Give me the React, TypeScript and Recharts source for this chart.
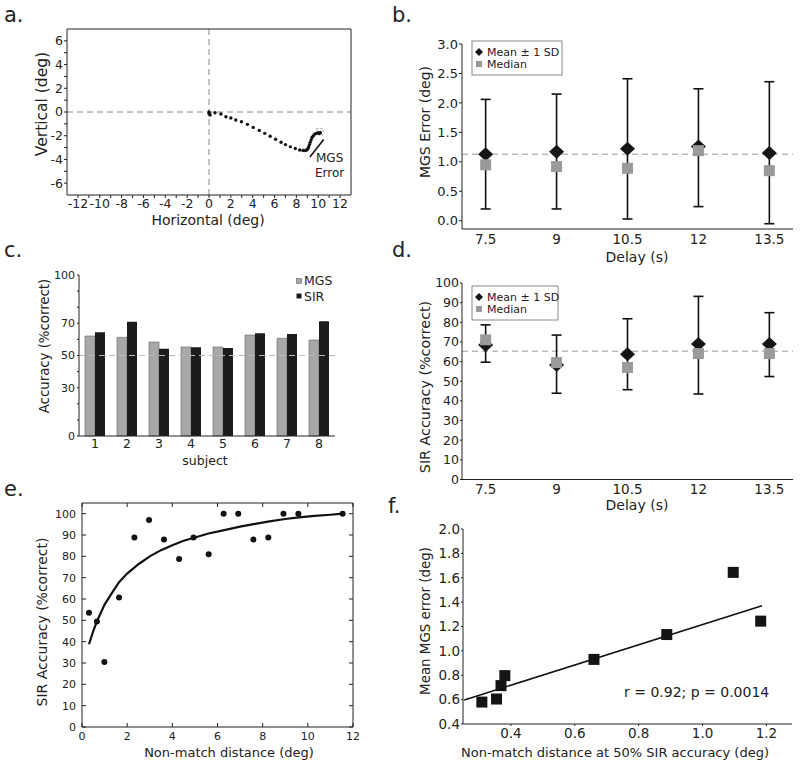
import React from 'react';
import {
  ScatterChart, Scatter, XAxis, YAxis, ReferenceLine, ReferenceArea, ErrorBar, BarChart, Bar,
} from 'recharts';

const FONT = "'DejaVu Sans', Verdana, sans-serif";
const INK = '#222';
const GREY = '#9a9a9a';

// ---------- Panel a: saccade trajectory ----------
const trajX = [0, 0.02, 0.05, 0.1, 0.55, 1.09, 1.55, 2.0, 2.45, 2.97, 3.52, 4.05, 4.6, 5.1, 5.6, 6.1, 6.6, 7.0, 7.45, 7.9, 8.3, 8.6, 8.8, 8.95, 9.05, 9.12, 9.2, 9.27, 9.35, 9.43, 9.55, 9.7, 9.85, 10.0, 10.1, 10.2];
const trajY = [0, -0.1, -0.2, -0.25, -0.06, -0.17, -0.4, -0.5, -0.68, -0.82, -1.04, -1.3, -1.55, -1.8, -2.05, -2.3, -2.55, -2.75, -2.94, -3.08, -3.2, -3.25, -3.25, -3.2, -3.1, -2.95, -2.75, -2.55, -2.35, -2.15, -2.0, -1.85, -1.8, -1.75, -1.8, -1.75];
const aDomX = [-13, 13];
const aDomY = [-7, 7];
const aTicksX = [-12, -11, -10, -9, -8, -7, -6, -5, -4, -3, -2, -1, 0, 1, 2, 3, 4, 5, 6, 7, 8, 9, 10, 11, 12];
const aTicksY = [-6, -5, -4, -3, -2, -1, 0, 1, 2, 3, 4, 5, 6];
const aErrLineX = [9.24, 10.5];
const aErrLineY = [-3.79, -2.32];
const aBoxX = [9.85, 10.45];
const aBoxY = [-1.95, -1.4];

// ---------- Panel b: MGS error by delay ----------
const delays = [7.5, 9, 10.5, 12, 13.5];
const mgsMean = [1.13, 1.17, 1.22, 1.26, 1.15];
const mgsLow = [0.2, 0.2, 0.03, 0.24, -0.05];
const mgsHigh = [2.06, 2.15, 2.41, 2.24, 2.36];
const mgsMedian = [0.95, 0.92, 0.89, 1.19, 0.85];
const mgsRef = 1.13;
const bTicksY = [0, 0.5, 1.0, 1.5, 2.0, 2.5, 3.0];

// ---------- Panel c: accuracy per subject ----------
const subjects = ['1', '2', '3', '4', '5', '6', '7', '8'];
const mgsAcc = [62.1, 61.3, 58.4, 55.3, 55.3, 62.7, 60.7, 59.6];
const sirAcc = [64.4, 71, 54.2, 55.1, 54.7, 63.8, 63.4, 71.2];
const cTicksY = [0, 10, 20, 30, 40, 50, 60, 70, 80, 90, 100];
const cLabeled = [0, 30, 50, 70, 100];

// ---------- Panel d: SIR accuracy by delay ----------
const sirMean = [68.5, 58.3, 63.8, 68.9, 68.9];
const sirLow = [59.7, 43.9, 45.7, 43.5, 52.4];
const sirHigh = [78.7, 73.5, 81.8, 93.2, 84.9];
const sirMedian = [71.1, 59.5, 57, 64.1, 64.1];
const sirRef = 65.3;
const dTicksY = [0, 10, 20, 30, 40, 50, 60, 70, 80, 90, 100];

// ---------- Panel e: accuracy vs non-match distance ----------
const nmDist = [0.31, 0.66, 0.99, 1.64, 2.32, 2.97, 3.63, 4.3, 4.94, 5.61, 6.27, 6.92, 7.59, 8.25, 8.92, 9.58, 11.54];
const nmAcc = [53.6, 49.5, 30.5, 60.7, 88.8, 97, 87.9, 78.8, 88.8, 81, 100, 100, 87.9, 88.8, 100, 100, 100];
const fitDist = [0.31, 0.5, 0.66, 1.0, 1.3, 1.64, 2.0, 2.5, 3.0, 3.5, 4.0, 4.5, 5.0, 5.6, 6.3, 7.0, 7.6, 8.3, 9.0, 9.6, 10.3, 11.0, 11.54];
const fitAcc = [38.8, 45, 49.5, 57.4, 62.4, 67.9, 71.9, 76.3, 80, 82.9, 85.2, 87.3, 88.8, 90.7, 92.3, 93.9, 95.1, 96.4, 97.5, 98.3, 99, 99.5, 100];
const eDomX = [0, 12];
const eDomY = [0, 105];
const eTicksX = [0, 2, 4, 6, 8, 10, 12];
const eTicksY = [0, 10, 20, 30, 40, 50, 60, 70, 80, 90, 100];

// ---------- Panel f: MGS error vs threshold ----------
const thrDist = [0.309, 0.355, 0.369, 0.381, 0.66, 0.888, 1.096, 1.182];
const thrErr = [0.58, 0.605, 0.715, 0.797, 0.93, 1.134, 1.644, 1.244];
const regX = [0.254, 1.186];
const regY = [0.597, 1.37];
const fTicksX = [0.4, 0.6, 0.8, 1.0, 1.2];
const fTicksY = [0.4, 0.6, 0.8, 1.0, 1.2, 1.4, 1.6, 1.8, 2.0];

// plot-box geometry (page pixels) used for frames of panels a and e
const A_BOX = { l: 67, t: 29, r: 351, b: 195 };
const E_BOX = { l: 82, t: 503, r: 353, b: 727 };

const noShape = () => <g />;

function Diamond(props: any) {
  const { cx, cy } = props;
  if (cx == null || cy == null) return <g />;
  return <polygon points={`${cx},${cy - 7} ${cx + 7.5},${cy} ${cx},${cy + 7} ${cx - 7.5},${cy}`} fill="#151515" />;
}
function GreySquare(props: any) {
  const { cx, cy } = props;
  if (cx == null || cy == null) return <g />;
  return <rect x={cx - 5.5} y={cy - 5.5} width={11} height={11} fill={GREY} />;
}
function BlackSquare(props: any) {
  const { cx, cy } = props;
  if (cx == null || cy == null) return <g />;
  return <rect x={cx - 5.5} y={cy - 5.5} width={11} height={11} fill="#141414" />;
}
function SmallDot(props: any) {
  const { cx, cy } = props;
  if (cx == null || cy == null) return <g />;
  return <circle cx={cx} cy={cy} r={1.7} fill="#111" />;
}
function Dot(props: any) {
  const { cx, cy } = props;
  if (cx == null || cy == null) return <g />;
  return <circle cx={cx} cy={cy} r={3} fill="#111" />;
}

const tickStyle = (size: number) => ({ fontSize: size, fill: INK, fontFamily: FONT });

function PanelA() {
  const pts = trajX.map((x, i) => ({ x, y: trajY[i] }));
  const seg = aErrLineX.map((x, i) => ({ x, y: aErrLineY[i] }));
  return (
    <ScatterChart width={400} height={250} margin={{ top: A_BOX.t, right: 400 - A_BOX.r, bottom: 25, left: 27 }}>
      <XAxis type="number" dataKey="x" domain={aDomX} ticks={aTicksX} interval={0}
        tickFormatter={(v: number) => (v % 2 === 0 ? String(v) : '')}
        tickSize={3} tickMargin={1} height={30} stroke={INK} tick={tickStyle(12.5)} />
      <YAxis type="number" dataKey="y" domain={aDomY} ticks={aTicksY} interval={0}
        tickFormatter={(v: number) => (v % 2 === 0 ? String(v) : '')}
        tickSize={3} tickMargin={1} width={40} stroke={INK} tick={tickStyle(12.5)} />
      <ReferenceLine x={0} stroke="#888" strokeDasharray="6 4" />
      <ReferenceLine y={0} stroke="#888" strokeDasharray="6 4" />
      <ReferenceArea x1={aBoxX[0]} x2={aBoxX[1]} y1={aBoxY[0]} y2={aBoxY[1]} fill="none" fillOpacity={0} stroke="#aaa" strokeDasharray="2 2" />
      <Scatter data={pts} shape={SmallDot} isAnimationActive={false} />
      <Scatter data={seg} shape={noShape} line={{ stroke: '#111', strokeWidth: 1.6 }} isAnimationActive={false} />
    </ScatterChart>
  );
}

function PanelB() {
  const meanData = delays.map((x, i) => ({ x, y: mgsMean[i], err: [mgsMean[i] - mgsLow[i], mgsHigh[i] - mgsMean[i]] }));
  const medData = delays.map((x, i) => ({ x, y: mgsMedian[i] }));
  return (
    <ScatterChart width={400} height={260} margin={{ top: 44, right: 7, bottom: 1, left: 20 }}>
      <XAxis type="number" dataKey="x" domain={[7, 14]} ticks={delays} interval={0}
        tickSize={0} tickMargin={5} height={30} stroke={INK} tick={tickStyle(13.5)} allowDataOverflow />
      <YAxis type="number" dataKey="y" domain={[-0.14, 3]} ticks={bTicksY} interval={0}
        tickFormatter={(v: number) => v.toFixed(1)}
        tickSize={3} tickMargin={1} width={42} stroke={INK} tick={tickStyle(13)} allowDataOverflow />
      <ReferenceLine y={mgsRef} stroke="#999" strokeDasharray="6 4" />
      <Scatter data={meanData} shape={Diamond} isAnimationActive={false}>
        <ErrorBar dataKey="err" direction="y" width={5} stroke="#111" strokeWidth={1.6} />
      </Scatter>
      <Scatter data={medData} shape={GreySquare} isAnimationActive={false} />
    </ScatterChart>
  );
}

function PanelC() {
  const data = subjects.map((s, i) => ({ s, mgs: mgsAcc[i], sir: sirAcc[i] }));
  return (
    <BarChart width={400} height={230} data={data} margin={{ top: 25, right: 65, bottom: 14, left: 35 }} barGap={0} barCategoryGap={6}>
      <XAxis dataKey="s" tickLine={false} tickSize={0} tickMargin={3} height={30} stroke={INK} tick={tickStyle(12.5)} interval={0} />
      <YAxis type="number" domain={[0, 100]} ticks={cTicksY} interval={0}
        tickFormatter={(v: number) => (cLabeled.includes(v) ? String(v) : '')}
        tickSize={2} tickMargin={2} width={44} stroke={INK} tick={tickStyle(11)} />
      <Bar dataKey="mgs" fill="#a8a8a8" stroke="#666" strokeWidth={0.6} barSize={10} isAnimationActive={false} />
      <Bar dataKey="sir" fill="#1c1c1c" barSize={10} isAnimationActive={false} />
      <ReferenceLine y={50} stroke="#bbb" strokeDasharray="6 4" />
    </BarChart>
  );
}

function PanelD() {
  const meanData = delays.map((x, i) => ({ x, y: sirMean[i], err: [sirMean[i] - sirLow[i], sirHigh[i] - sirMean[i]] }));
  const medData = delays.map((x, i) => ({ x, y: sirMedian[i] }));
  return (
    <ScatterChart width={400} height={260} margin={{ top: 33, right: 7, bottom: 0.5, left: 20 }}>
      <XAxis type="number" dataKey="x" domain={[7, 14]} ticks={delays} interval={0}
        tickSize={0} tickMargin={5} height={30} stroke={INK} tick={tickStyle(13.5)} allowDataOverflow />
      <YAxis type="number" dataKey="y" domain={[0, 100]} ticks={dTicksY} interval={0}
        tickSize={2} tickMargin={1} width={42} stroke={INK} tick={tickStyle(12.5)} allowDataOverflow />
      <ReferenceLine y={sirRef} stroke="#999" strokeDasharray="6 4" />
      <Scatter data={meanData} shape={Diamond} isAnimationActive={false}>
        <ErrorBar dataKey="err" direction="y" width={5} stroke="#111" strokeWidth={1.6} />
      </Scatter>
      <Scatter data={medData} shape={GreySquare} isAnimationActive={false} />
    </ScatterChart>
  );
}

function PanelE() {
  const pts = nmDist.map((x, i) => ({ x, y: nmAcc[i] }));
  const fit = fitDist.map((x, i) => ({ x, y: fitAcc[i] }));
  return (
    <ScatterChart width={400} height={289} margin={{ top: E_BOX.t - 480, right: 400 - E_BOX.r, bottom: 12, left: 37 }}>
      <XAxis type="number" dataKey="x" domain={eDomX} ticks={eTicksX} interval={0}
        tickLine={false} tickSize={0} tickMargin={5} height={30} stroke={INK} tick={tickStyle(11)} />
      <YAxis type="number" dataKey="y" domain={eDomY} ticks={eTicksY} interval={0}
        tickLine={false} tickSize={0} tickMargin={6} width={45} stroke={INK} tick={tickStyle(11)} />
      <Scatter data={fit} shape={noShape} line={{ stroke: '#111', strokeWidth: 2.2 }} isAnimationActive={false} />
      <Scatter data={pts} shape={Dot} isAnimationActive={false} />
    </ScatterChart>
  );
}

function PanelF() {
  const pts = thrDist.map((x, i) => ({ x, y: thrErr[i] }));
  const reg = regX.map((x, i) => ({ x, y: regY[i] }));
  return (
    <ScatterChart width={400} height={289} margin={{ top: 49, right: 8, bottom: 15, left: 20 }}>
      <XAxis type="number" dataKey="x" domain={[0.25, 1.28]} ticks={fTicksX} interval={0}
        tickFormatter={(v: number) => v.toFixed(1)}
        tickSize={2} tickMargin={2} height={30} stroke={INK} tick={tickStyle(13.5)} allowDataOverflow />
      <YAxis type="number" dataKey="y" domain={[0.4, 2.0]} ticks={fTicksY} interval={0}
        tickFormatter={(v: number) => v.toFixed(1)}
        tickSize={2} tickMargin={1} width={43} stroke={INK} tick={tickStyle(13.5)} allowDataOverflow />
      <Scatter data={reg} shape={noShape} line={{ stroke: '#111', strokeWidth: 1.6 }} isAnimationActive={false} />
      <Scatter data={pts} shape={BlackSquare} isAnimationActive={false} />
    </ScatterChart>
  );
}

function RotText({ x, y, size, children }: any) {
  return (
    <text transform={`translate(${x},${y}) rotate(-90)`} textAnchor="middle" dominantBaseline="central" fontSize={size} fill={INK} fontFamily={FONT}>{children}</text>
  );
}
function T({ x, y, size, anchor = 'middle', children }: any) {
  return <text x={x} y={y} fontSize={size} textAnchor={anchor} fill={INK} fontFamily={FONT}>{children}</text>;
}
function LegendBox({ x, y, w, h }: any) {
  return (
    <g>
      <rect x={x} y={y} width={w} height={h} fill="#fff" stroke="#888" strokeWidth={1} />
      <polygon points={`${x + 7},${y + 7} ${x + 11},${y + 11} ${x + 7},${y + 15} ${x + 3},${y + 11}`} fill="#151515" />
      <text x={x + 15} y={y + 15} fontSize={11} fill={INK} fontFamily={FONT}>Mean ± 1 SD</text>
      <rect x={x + 4} y={y + 20} width={6} height={6} fill={GREY} />
      <text x={x + 15} y={y + 27} fontSize={11} fill={INK} fontFamily={FONT}>Median</text>
    </g>
  );
}

// top/right frame edges of a boxed panel, with optional inward ticks
function Frame({ box, dx, dy, ticksX, ticksY }: any) {
  const sx = (v: number) => box.l + ((v - dx[0]) / (dx[1] - dx[0])) * (box.r - box.l);
  const sy = (v: number) => box.b - ((v - dy[0]) / (dy[1] - dy[0])) * (box.b - box.t);
  return (
    <g stroke={INK} strokeWidth={1} fill="none">
      <polyline points={`${box.l},${box.t} ${box.r},${box.t} ${box.r},${box.b}`} />
      {(ticksX || []).map((v: number) => (
        <g key={`x${v}`}>
          <line x1={sx(v)} x2={sx(v)} y1={box.b} y2={box.b - 4} />
          <line x1={sx(v)} x2={sx(v)} y1={box.t} y2={box.t + 4} />
        </g>
      ))}
      {(ticksY || []).map((v: number) => (
        <g key={`y${v}`}>
          <line x1={box.l} x2={box.l + 4} y1={sy(v)} y2={sy(v)} />
          <line x1={box.r} x2={box.r - 4} y1={sy(v)} y2={sy(v)} />
        </g>
      ))}
    </g>
  );
}

export default function App() {
  return (
    <div style={{ position: 'absolute', left: 0, top: 0, width: 800, height: 769, background: '#fff', fontFamily: FONT }}>
      <div style={{ position: 'absolute', left: 0, top: 0 }}><PanelA /></div>
      <div style={{ position: 'absolute', left: 400, top: 0 }}><PanelB /></div>
      <div style={{ position: 'absolute', left: 0, top: 250 }}><PanelC /></div>
      <div style={{ position: 'absolute', left: 400, top: 250 }}><PanelD /></div>
      <div style={{ position: 'absolute', left: 0, top: 480 }}><PanelE /></div>
      <div style={{ position: 'absolute', left: 400, top: 480 }}><PanelF /></div>
      <svg width={800} height={769} style={{ position: 'absolute', left: 0, top: 0, pointerEvents: 'none' }}>
        <Frame box={A_BOX} dx={aDomX} dy={aDomY} />
        <Frame box={E_BOX} dx={eDomX} dy={eDomY} ticksX={eTicksX} ticksY={eTicksY} />

        <T x={4} y={22} size={21} anchor="start">a.</T>
        <T x={392} y={22} size={21} anchor="start">b.</T>
        <T x={4} y={257} size={21} anchor="start">c.</T>
        <T x={392} y={257} size={21} anchor="start">d.</T>
        <T x={4} y={496} size={21} anchor="start">e.</T>
        <T x={388} y={513} size={21} anchor="start">f.</T>

        <T x={208} y={225} size={14}>Horizontal (deg)</T>
        <RotText x={42} y={104} size={15.5}>Vertical (deg)</RotText>
        <T x={316} y={162} size={12} anchor="start">MGS</T>
        <T x={315} y={177} size={12} anchor="start">Error</T>

        <RotText x={425} y={122} size={14}>MGS Error (deg)</RotText>
        <LegendBox x={472} y={41} w={90} h={34} />
        <T x={637} y={262} size={14}>Delay (s)</T>

        <RotText x={44} y={346} size={13.3}>Accuracy (%correct)</RotText>
        <rect x={296.5} y={278.5} width={5} height={5} fill="#a8a8a8" stroke="#666" strokeWidth={0.6} />
        <T x={304} y={285} size={12.5} anchor="start">MGS</T>
        <rect x={296.5} y={293.5} width={5} height={5} fill="#1c1c1c" />
        <T x={304} y={300.5} size={12.5} anchor="start">SIR</T>
        <T x={205} y={465} size={12.5}>subject</T>

        <RotText x={425} y={387} size={14.3}>SIR Accuracy (%correct)</RotText>
        <LegendBox x={472} y={286} w={86} h={34} />
        <T x={637} y={510} size={14}>Delay (s)</T>

        <RotText x={42} y={622} size={14}>SIR Accuracy (%correct)</RotText>
        <T x={229} y={757} size={13}>Non-match distance (deg)</T>

        <RotText x={425} y={621} size={13.4}>Mean MGS error (deg)</RotText>
        <T x={624} y={697} size={14} anchor="start">r = 0.92; p = 0.0014</T>
        <T x={615} y={757} size={13}>Non-match distance at 50% SIR accuracy (deg)</T>
      </svg>
    </div>
  );
}
